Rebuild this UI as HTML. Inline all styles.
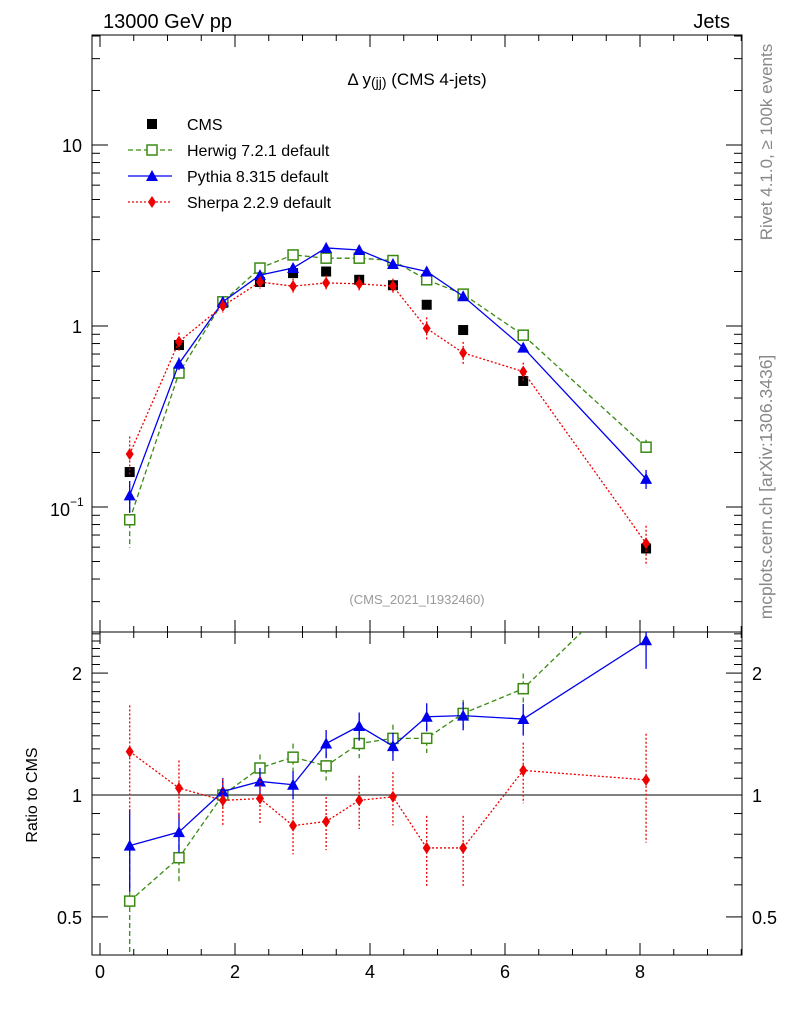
<!DOCTYPE html>
<html><head><meta charset="utf-8"><style>
body{margin:0;background:#fff}
svg{font-family:"Liberation Sans",sans-serif}
</style></head><body>
<svg id="c" width="786" height="1024" xmlns="http://www.w3.org/2000/svg">
<rect width="786" height="1024" fill="#fff"/>
<g id="g"></g>
<text x="103" y="28" font-size="20">13000 GeV pp</text>
<text x="730" y="28" font-size="20" text-anchor="end">Jets</text>
<text x="417" y="85" font-size="17" text-anchor="middle">Δ y<tspan font-size="14" dy="2">(jj)</tspan><tspan dy="-2"> (CMS 4-jets)</tspan></text>
<text x="417" y="604" font-size="13" fill="#999" text-anchor="middle">(CMS_2021_I1932460)</text>
<text transform="translate(772,142) rotate(-90)" font-size="17" fill="#888" text-anchor="middle">Rivet 4.1.0, ≥ 100k events</text>
<text transform="translate(772,487) rotate(-90)" font-size="17.5" fill="#888" text-anchor="middle">mcplots.cern.ch [arXiv:1306.3436]</text>
<text transform="translate(37,795) rotate(-90)" font-size="16" text-anchor="middle">Ratio to CMS</text>
</svg>
<script>
const xs=[0.44,1.17,1.82,2.37,2.86,3.35,3.84,4.34,4.84,5.38,6.27,8.09];
const cms=[0.156,0.785,1.34,1.75,1.96,2.0,1.8,1.68,1.31,0.95,0.497,0.059];
const herwig=[0.085,0.55,1.36,2.09,2.47,2.37,2.37,2.3,1.8,1.5,0.89,0.214];
const pythia=[0.116,0.62,1.36,1.91,2.09,2.7,2.63,2.2,2.0,1.46,0.76,0.143];
const sherpa=[0.196,0.82,1.29,1.75,1.66,1.73,1.71,1.66,0.97,0.71,0.56,0.063];
const herwigErr=[0.3,0.1,0.06,0.05,0.05,0.05,0.05,0.05,0.05,0.05,0.06,0.1];
const pythiaErr=[0.2,0.08,0.05,0.05,0.05,0.05,0.05,0.05,0.05,0.05,0.06,0.12];
const sherpaErr=[0.25,0.12,0.08,0.08,0.1,0.1,0.1,0.1,0.15,0.15,0.12,0.25];
const rHerwig=[0.547,0.70,1.0,1.166,1.24,1.18,1.34,1.38,1.38,1.59,1.83,3.6];
const rPythia=[0.75,0.81,1.02,1.08,1.06,1.34,1.48,1.32,1.56,1.57,1.54,2.41];
const rSherpa=[1.28,1.04,0.97,0.98,0.84,0.86,0.97,0.99,0.74,0.74,1.15,1.09];
const xTicks=[0,2,4,6,8];
const NS="http://www.w3.org/2000/svg";
const g=document.getElementById('g');
const L=92,R=742,T=35,M=632,B=955;
const X=v=>100+67.5*v;
const Y=v=>326-181*Math.log10(v);
const YR=v=>795-405*Math.log10(v);
function el(t,a,p){const e=document.createElementNS(NS,t);for(const k in a)e.setAttribute(k,a[k]);(p||g).appendChild(e);return e;}
const defs=el('defs',{});
const c1=el('clipPath',{id:'cm'},defs);el('rect',{x:L,y:T,width:R-L,height:M-T},c1);
const c2=el('clipPath',{id:'cr'},defs);el('rect',{x:L,y:M,width:R-L,height:B-M},c2);
let f=el('rect',{x:L,y:T,width:R-L,height:M-T,fill:'none',stroke:'#000','stroke-width':1});

f=el('rect',{x:L,y:M,width:R-L,height:B-M,fill:'none',stroke:'#000','stroke-width':1});

for(let v=0;v<=9.5;v+=0.5){const x=X(v),big=v%2===0?1:0,len=big?12:6;
 [T,M].forEach(y=>el('line',{x1:x,x2:x,y1:y,y2:y+len,stroke:'#000'}));
 [M,B].forEach(y=>el('line',{x1:x,x2:x,y1:y,y2:y-len,stroke:'#000'}));}
xTicks.forEach(v=>{const t=el('text',{x:X(v),y:978,'font-size':18,'text-anchor':'middle'});t.textContent=v;
 });
for(let d=-2;d<=1;d++)for(let m=1;m<=9;m++){const v=m*Math.pow(10,d),y=Y(v);if(y<T||y>M)continue;
 const len=m===1?16:8;el('line',{x1:L,x2:L+len,y1:y,y2:y,stroke:'#000'});el('line',{x1:R,x2:R-len,y1:y,y2:y,stroke:'#000'});}
[[10,'10'],[1,'1']].forEach(([v,s])=>{const t=el('text',{x:82,y:Y(v)+7,'font-size':18,'text-anchor':'end'});t.textContent=s;
 });
let t=el('text',{x:70,y:Y(0.1)+9,'font-size':18,'text-anchor':'end'});t.textContent='10';

t=el('text',{x:70,y:Y(0.1)-1,'font-size':12});t.textContent='−1';
for(let v=0.4;v<=2.6;v+=0.1){const y=YR(v);if(y<M||y>B)continue;const big=[0.5,1,2].some(q=>Math.abs(q-v)<1e-6);const len=big?16:8;
 el('line',{x1:L,x2:L+len,y1:y,y2:y,stroke:'#000'});el('line',{x1:R,x2:R-len,y1:y,y2:y,stroke:'#000'});}
[[2,'2'],[1,'1'],[0.5,'0.5']].forEach(([v,s])=>{[[82,'end'],[752,'start']].forEach(([x,a])=>{const t=el('text',{x:x,y:YR(v)+7,'font-size':18,'text-anchor':a});t.textContent=s;
 });});
el('line',{x1:L,x2:R,y1:YR(1),y2:YR(1),stroke:'#000'});
function series(vals,errs,yf,col,dash,marker,clip,name){
 const gg=el('g',{'clip-path':'url(#'+clip+')'});
 
 if(dash!==null){el('polyline',{points:xs.map((x,i)=>X(x)+','+yf(vals[i])).join(' '),fill:'none',stroke:col,'stroke-width':1.3,'stroke-dasharray':dash},gg);}
 xs.forEach((x,i)=>{const v=vals[i],e=errs?errs[i]:0;const px=X(x),py=yf(v);
  if(e){el('line',{x1:px,x2:px,y1:yf(v*(1+e)),y2:yf(Math.max(v*(1-e),1e-4)),stroke:col,'stroke-width':1.3,'stroke-dasharray':dash||''},gg);}
  let m;
  if(marker==='sq')m=el('rect',{x:px-5,y:py-5,width:10,height:10,fill:col},gg);
  else if(marker==='osq')m=el('rect',{x:px-5,y:py-5,width:10,height:10,fill:'#fff',stroke:col,'stroke-width':1.5},gg);
  else if(marker==='tri')m=el('polygon',{points:`${px},${py-6} ${px-6},${py+5} ${px+6},${py+5}`,fill:col},gg);
  else m=el('polygon',{points:`${px},${py-6} ${px-4},${py} ${px},${py+6} ${px+4},${py}`,fill:col},gg);
  });
}
const rErrH=herwigErr.map(e=>e+0.03),rErrP=pythiaErr.map(e=>e+0.03),rErrS=sherpaErr.map(e=>e+0.05);
series(cms,null,Y,'#000',null,'sq','cm','cms-series');
series(herwig,herwigErr,Y,'#3a8a12','5,3','osq','cm','herwig-series');
series(pythia,pythiaErr,Y,'#0000ee','','tri','cm','pythia-series');
series(sherpa,sherpaErr,Y,'#ee0000','2,2','dia','cm','sherpa-series');
series(rHerwig,rErrH,YR,'#3a8a12','5,3','osq','cr','herwig-ratio');
series(rPythia,rErrP,YR,'#0000ee','','tri','cr','pythia-ratio');
series(rSherpa,rErrS,YR,'#ee0000','2,2','dia','cr','sherpa-ratio');
const leg=[['CMS','#000',null,'sq'],['Herwig 7.2.1 default','#3a8a12','5,3','osq'],['Pythia 8.315 default','#0000ee','','tri'],['Sherpa 2.2.9 default','#ee0000','2,2','dia']];
leg.forEach((l,i)=>{const y=124+26*i;const lg=el('g',{});
 if(l[2]!==null)el('line',{x1:128,x2:172,y1:y,y2:y,stroke:l[1],'stroke-width':1.3,'stroke-dasharray':l[2]},lg);
 const px=152,py=y;
 if(l[3]==='sq')el('rect',{x:px-5,y:py-5,width:10,height:10,fill:l[1]},lg);
 else if(l[3]==='osq')el('rect',{x:px-5,y:py-5,width:10,height:10,fill:'#fff',stroke:l[1],'stroke-width':1.5},lg);
 else if(l[3]==='tri')el('polygon',{points:`${px},${py-6} ${px-6},${py+5} ${px+6},${py+5}`,fill:l[1]},lg);
 else el('polygon',{points:`${px},${py-6} ${px-4},${py} ${px},${py+6} ${px+4},${py}`,fill:l[1]},lg);
 const tt=el('text',{x:187,y:y+6,'font-size':16},lg);tt.textContent=l[0];});
</script>
</body></html>
